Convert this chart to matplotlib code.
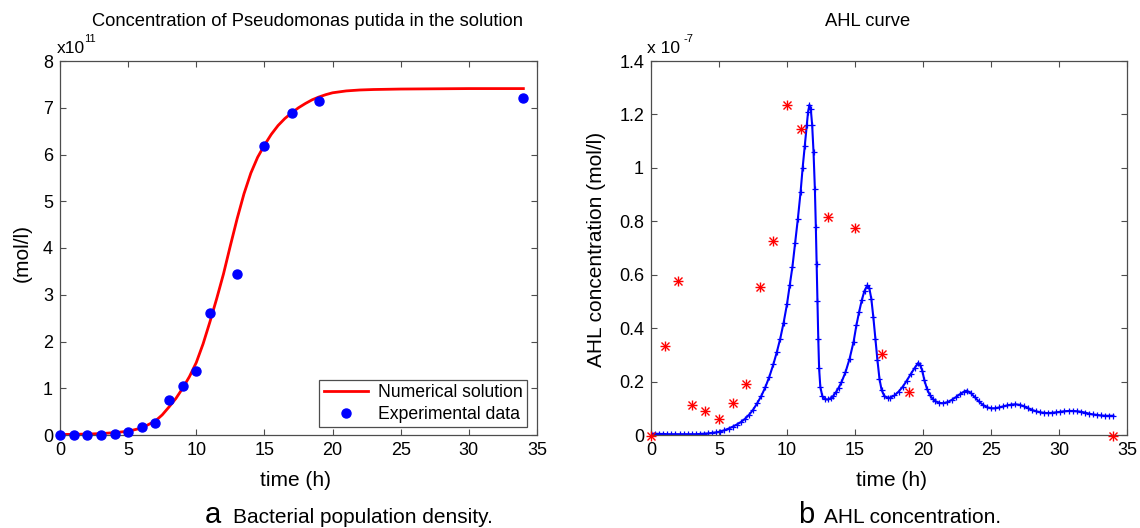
import matplotlib
matplotlib.use("Agg")
import matplotlib.pyplot as plt

plt.rcParams['font.family'] = ['Liberation Sans', 'DejaVu Sans']

# ---------------- data: panel a (x 1e11 mol/l) ----------------
exp_t_a = [0, 1, 2, 3, 4, 5, 6, 7, 8, 9, 10, 11, 13, 15, 17, 19, 34]
exp_y_a = [0.0, 0.0, 0.01, 0.01, 0.02, 0.06, 0.18, 0.26, 0.74, 1.04, 1.37, 2.61, 3.44, 6.19, 6.89, 7.15, 7.21]

num_t_a = [0, 1, 2, 3, 4, 5, 6, 7, 7.5, 8, 8.5, 9, 9.5, 10, 10.5, 11, 11.5, 12, 12.5,
           13, 13.5, 14, 14.5, 15, 15.5, 16, 16.5, 17, 17.5, 18, 18.5, 19, 19.5, 20,
           21, 22, 23, 25, 30, 34]
num_y_a = [0.01, 0.015, 0.02, 0.03, 0.05, 0.08, 0.15, 0.3, 0.43, 0.6, 0.78, 1.0, 1.25,
           1.55, 1.95, 2.42, 2.92, 3.45, 4.05, 4.63, 5.16, 5.6, 5.94, 6.2, 6.43, 6.62,
           6.77, 6.89, 7.0, 7.09, 7.17, 7.23, 7.28, 7.32, 7.36, 7.38, 7.39, 7.40, 7.41, 7.41]

# ---------------- data: panel b (x 1e-7 mol/l) ----------------
exp_t_b = [0, 1, 2, 3, 4, 5, 6, 7, 8, 9, 10, 11, 13, 15, 17, 19, 34]
exp_y_b = [-0.004, 0.333, 0.575, 0.114, 0.089, 0.061, 0.119, 0.192, 0.554, 0.725,
           1.236, 1.147, 0.817, 0.774, 0.304, 0.161, -0.004]

# simulated AHL curve, (time, value) pairs
ahl_curve = [
    (0.0, 0.005), (0.3, 0.005), (0.6, 0.004), (0.9, 0.004), (1.2, 0.003), (1.5, 0.003),
    (1.8, 0.003), (2.1, 0.003), (2.4, 0.003), (2.7, 0.003), (3.0, 0.003), (3.3, 0.003),
    (3.6, 0.004), (3.9, 0.005), (4.2, 0.006), (4.5, 0.008), (4.8, 0.010), (5.1, 0.013),
    (5.4, 0.018), (5.7, 0.024), (6.0, 0.031), (6.3, 0.039), (6.6, 0.048), (6.9, 0.060),
    (7.2, 0.075), (7.5, 0.094), (7.8, 0.118), (8.1, 0.145), (8.4, 0.178), (8.7, 0.218),
    (9.0, 0.265), (9.25, 0.31), (9.5, 0.36), (9.75, 0.42), (10.0, 0.49), (10.2, 0.56),
    (10.4, 0.63), (10.6, 0.72), (10.8, 0.81), (11.0, 0.91), (11.15, 1.00), (11.3, 1.08),
    (11.45, 1.16), (11.55, 1.21), (11.65, 1.236), (11.75, 1.22), (11.85, 1.16),
    (11.95, 1.06), (12.05, 0.92), (12.12, 0.78), (12.18, 0.64), (12.24, 0.50),
    (12.30, 0.36), (12.36, 0.25), (12.45, 0.18), (12.6, 0.145), (12.8, 0.134),
    (13.0, 0.133), (13.2, 0.137), (13.4, 0.146), (13.6, 0.160), (13.8, 0.177),
    (14.0, 0.197), (14.3, 0.235), (14.6, 0.285), (14.9, 0.35), (15.1, 0.41), (15.3, 0.46),
    (15.5, 0.505), (15.7, 0.54), (15.9, 0.56), (16.05, 0.55), (16.2, 0.51), (16.35, 0.44),
    (16.5, 0.36), (16.65, 0.28), (16.8, 0.21), (16.95, 0.17), (17.15, 0.146),
    (17.4, 0.139), (17.6, 0.140), (17.9, 0.148), (18.2, 0.162), (18.5, 0.180),
    (18.8, 0.203), (19.1, 0.228), (19.4, 0.252), (19.65, 0.270), (19.8, 0.262),
    (19.95, 0.240), (20.1, 0.205), (20.3, 0.172), (20.5, 0.150), (20.7, 0.136),
    (20.9, 0.127), (21.2, 0.120), (21.5, 0.119), (21.8, 0.123), (22.1, 0.131),
    (22.4, 0.141), (22.7, 0.152), (23.0, 0.162), (23.2, 0.166), (23.5, 0.158),
    (23.8, 0.142), (24.1, 0.126), (24.4, 0.113), (24.7, 0.104), (25.0, 0.100),
    (25.3, 0.100), (25.6, 0.103), (25.9, 0.107), (26.2, 0.111), (26.5, 0.114),
    (26.8, 0.115), (27.1, 0.113), (27.4, 0.108), (27.7, 0.101), (28.0, 0.094),
    (28.3, 0.089), (28.6, 0.085), (28.9, 0.083), (29.2, 0.082), (29.5, 0.083),
    (29.8, 0.085), (30.1, 0.087), (30.4, 0.089), (30.7, 0.090), (31.0, 0.090),
    (31.3, 0.089), (31.6, 0.087), (31.9, 0.084), (32.2, 0.080), (32.5, 0.077),
    (32.8, 0.075), (33.1, 0.073), (33.4, 0.072), (33.7, 0.072), (34.0, 0.072),
]
ahl_t = [p[0] for p in ahl_curve]
ahl_y = [p[1] for p in ahl_curve]

x_ticks = [0, 5, 10, 15, 20, 25, 30, 35]
y_ticks_a = [0, 1, 2, 3, 4, 5, 6, 7, 8]
y_ticks_b = [0, 0.2, 0.4, 0.6, 0.8, 1.0, 1.2, 1.4]
y_ticklabels_b = ['0', '0.2', '0.4', '0.6', '0.8', '1', '1.2', '1.4']

W, H = 1140, 528
fig = plt.figure(figsize=(W / 100, H / 100), dpi=100)

def px(x, y):
    return x / W, 1 - y / H

ax1 = fig.add_axes([60 / W, 93 / H, 477 / W, 374 / H])
ax2 = fig.add_axes([651 / W, 93 / H, 476 / W, 374 / H])

frame_col = '0.3'
for ax in (ax1, ax2):
    for s in ax.spines.values():
        s.set_color(frame_col)
        s.set_linewidth(0.9)
    ax.tick_params(direction='in', top=True, right=True, length=4, width=0.8,
                   color=frame_col, labelcolor='black', labelsize=13, pad=5)
    ax.set_xlim(0, 35)
    ax.set_xticks(x_ticks)

# panel a
ax1.plot(num_t_a, num_y_a, color='#ff0000', lw=2.0, label='Numerical solution')
ax1.plot(exp_t_a, exp_y_a, 'o', color='#0000ff', ms=6.5, mec='#0000ff',
         clip_on=False, label='Experimental data', zorder=3)
ax1.set_ylim(0, 8)
ax1.set_yticks(y_ticks_a)
leg = ax1.legend(loc='lower right', bbox_to_anchor=(0.98, 0.021), borderaxespad=0,
                 fancybox=False, framealpha=1, edgecolor=frame_col, fontsize=12.7,
                 handlelength=2.5, handletextpad=0.6, borderpad=0.25, labelspacing=0.25)
leg.get_frame().set_linewidth(0.9)

# panel b
ax2.plot(ahl_t, ahl_y, '-', color='#0000ff', lw=1.5, marker='+', ms=4, mew=0.9)
ax2.plot(exp_t_b, exp_y_b, '+', color='#ff0000', ms=7.5, mew=1.0,
         clip_on=False, zorder=3)
ax2.plot(exp_t_b, exp_y_b, 'x', color='#ff0000', ms=5.5, mew=1.0,
         clip_on=False, zorder=3)
ax2.set_ylim(0, 1.4)
ax2.set_yticks(y_ticks_b)
ax2.set_yticklabels(y_ticklabels_b)

# titles
fig.text(*px(308, 21), 'Concentration of Pseudomonas putida in the solution',
         ha='center', va='center', fontsize=13.2)
fig.text(*px(868, 21), 'AHL curve', ha='center', va='center', fontsize=13.2)

# exponent labels
fig.text(*px(57, 53), 'x10', ha='left', va='baseline', fontsize=12.5)
fig.text(*px(84, 42), '11', ha='left', va='baseline', fontsize=8)
fig.text(*px(647, 53), 'x 10', ha='left', va='baseline', fontsize=12.5)
fig.text(*px(683, 42), '-7', ha='left', va='baseline', fontsize=8)

# axis labels
fig.text(*px(296, 481), 'time (h)', ha='center', va='center', fontsize=15)
fig.text(*px(891, 481), 'time (h)', ha='center', va='center', fontsize=15)
fig.text(*px(22, 253), '(mol/l)', ha='center', va='center', rotation=90, fontsize=15)
fig.text(*px(596, 249), 'AHL concentration (mol/l)', ha='center', va='center',
         rotation=90, fontsize=15)

# captions
fig.text(*px(205, 523), 'a', ha='left', va='baseline', fontsize=21)
fig.text(*px(233, 523), 'Bacterial population density.', ha='left', va='baseline', fontsize=15)
fig.text(*px(798, 523), 'b', ha='left', va='baseline', fontsize=21)
fig.text(*px(824, 523), 'AHL concentration.', ha='left', va='baseline', fontsize=15)

fig.savefig('out.png', dpi=100)
